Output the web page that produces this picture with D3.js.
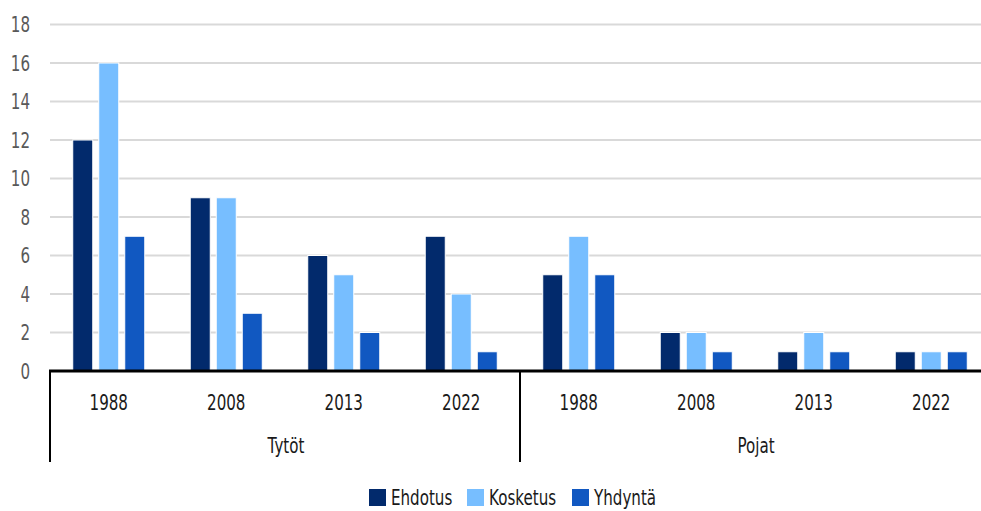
<!DOCTYPE html>
<html>
<head>
<meta charset="utf-8">
<script src="https://cdn.jsdelivr.net/npm/d3@7"></script>
<style>
  body { margin: 0; background: #fff; }
  text { font-family: "DejaVu Sans", sans-serif; }
</style>
</head>
<body>
<script>
const groups = ["Tytöt", "Pojat"];
const years = ["1988", "2008", "2013", "2022"];
const series = ["Ehdotus", "Kosketus", "Yhdyntä"];
const colors = ["#022a6c", "#77beff", "#1158c1"];
const ehdotus = [12, 9, 6, 7, 5, 2, 1, 1];
const kosketus = [16, 9, 5, 4, 7, 2, 2, 1];
const yhdynta = [7, 3, 2, 1, 5, 1, 1, 1];
const yTicks = [0, 2, 4, 6, 8, 10, 12, 14, 16, 18];

const values = [ehdotus, kosketus, yhdynta];
const cats = [];
groups.forEach(g => years.forEach(y => cats.push(g + "|" + y)));

const W = 981, H = 511;
const plotLeft = 50, plotRight = 990, plotTop = 24.5, plotBottom = 371;
const squeeze = 0.72; // condensed look
const fs = 21;

const svg = d3.select("body").append("svg")
  .attr("width", W)
  .attr("height", H);

// condensed text helper
function label(parent, x, yy, str, anchor, fill) {
  return parent.append("text")
    .attr("transform", `translate(${x},${yy}) scale(${squeeze},1)`)
    .attr("text-anchor", anchor)
    .attr("font-size", fs)
    .attr("fill", fill)
    .text(str);
}

const y = d3.scaleLinear().domain([0, 18]).range([plotBottom, plotTop]);
const x0 = d3.scaleBand().domain(cats).range([plotLeft, plotRight])
  .paddingInner(0.336).paddingOuter(0.168);
const x1 = d3.scaleBand().domain(series).range([0, x0.bandwidth()])
  .paddingInner(0.23).paddingOuter(0.115);
const xg = d3.scaleBand().domain(groups).range([plotLeft, plotRight]);

// gridlines
svg.append("g").selectAll("line")
  .data(yTicks.filter(d => d > 0))
  .join("line")
  .attr("x1", plotLeft).attr("x2", plotRight)
  .attr("y1", d => y(d)).attr("y2", d => y(d))
  .attr("stroke", "#d9d9d9").attr("stroke-width", 2);

// y labels
const yl = svg.append("g");
yTicks.forEach(d => label(yl, 30, y(d) + 7.5, d, "end", "#595959"));

// bars
series.forEach((s, si) => {
  svg.append("g").selectAll("rect")
    .data(cats.map((c, i) => ({ c, v: values[si][i] })))
    .join("rect")
    .attr("x", d => x0(d.c) + x1(s))
    .attr("width", x1.bandwidth())
    .attr("y", d => y(d.v))
    .attr("height", d => plotBottom - y(d.v))
    .attr("fill", colors[si])
    .attr("stroke", "#fff")
    .attr("stroke-width", 1);
});

// axis line
svg.append("line")
  .attr("x1", plotLeft - 1).attr("x2", plotRight)
  .attr("y1", plotBottom).attr("y2", plotBottom)
  .attr("stroke", "#000").attr("stroke-width", 3);

// group separators
const seps = [plotLeft, xg("Pojat")];
svg.append("g").selectAll("line")
  .data(seps)
  .join("line")
  .attr("x1", d => d).attr("x2", d => d)
  .attr("y1", plotBottom).attr("y2", 462)
  .attr("stroke", "#000").attr("stroke-width", 2);

// year labels
const xl = svg.append("g");
cats.forEach(c => label(xl, x0(c) + x0.bandwidth() / 2, 410, c.split("|")[1], "middle", "#1a1a1a"));

// group labels
const gl = svg.append("g");
groups.forEach(g => label(gl, xg(g) + xg.bandwidth() / 2 + 1, 453, g, "middle", "#1a1a1a"));

// legend
const legX = [369, 467, 572];
const leg = svg.append("g");
series.forEach((s, i) => {
  leg.append("rect")
    .attr("x", legX[i]).attr("y", 489)
    .attr("width", 17).attr("height", 17)
    .attr("fill", colors[i]);
  label(leg, legX[i] + 22, 505, s, "start", "#1a1a1a");
});
</script>
</body>
</html>
